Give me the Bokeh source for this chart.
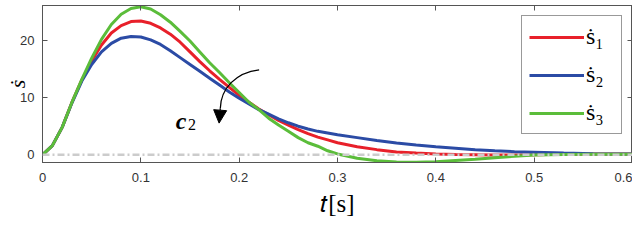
import numpy as np
from bokeh.plotting import figure
from bokeh.models import (Range1d, LinearAxis, Span, Label, Legend, LegendItem,
                          Arrow, NormalHead, FixedTicker, NumeralTickFormatter,
                          CustomLabelingPolicy)
from bokeh.core.properties import value
from bokeh.embed import file_html
from bokeh.resources import INLINE

# ---------------- data ----------------
t = [0.00, 0.01, 0.02, 0.03, 0.04, 0.05, 0.06, 0.07, 0.08, 0.09, 0.10,
     0.11, 0.12, 0.13, 0.14, 0.15, 0.16, 0.17, 0.18, 0.19, 0.20,
     0.21, 0.22, 0.23, 0.24, 0.25, 0.26, 0.27, 0.28, 0.29, 0.30,
     0.32, 0.34, 0.36, 0.38, 0.40, 0.42, 0.44, 0.46, 0.48, 0.50,
     0.53, 0.56, 0.60]
s1 = [0.0, 1.6, 4.8, 9.2, 13.1, 16.4, 19.2, 21.3, 22.6, 23.3, 23.4,
      23.0, 22.2, 21.1, 19.7, 18.0, 16.3, 14.7, 13.2, 11.8, 10.4,
      9.2, 8.0, 7.0, 6.0, 5.2, 4.4, 3.7, 3.1, 2.6, 2.1,
      1.4, 0.9, 0.5, 0.3, 0.15, 0.05, 0.0, -0.05, -0.05, 0.0,
      0.1, 0.12, 0.15]
s2 = [0.0, 1.6, 4.8, 9.1, 12.9, 15.8, 18.0, 19.5, 20.4, 20.7, 20.6,
      20.1, 19.3, 18.2, 17.0, 15.8, 14.6, 13.4, 12.2, 11.0, 9.9,
      8.9, 7.9, 7.1, 6.3, 5.6, 5.0, 4.5, 4.1, 3.8, 3.5,
      3.0, 2.5, 2.05, 1.7, 1.4, 1.15, 0.9, 0.7, 0.55, 0.45,
      0.3, 0.2, 0.15]
s3 = [0.0, 1.6, 4.8, 9.2, 13.2, 16.9, 20.2, 22.8, 24.6, 25.6, 25.9,
      25.5, 24.5, 23.2, 21.6, 19.9, 18.0, 16.1, 14.4, 12.6, 10.9,
      9.2, 7.9, 6.4, 5.2, 4.1, 3.0, 2.1, 1.5, 0.7, 0.15,
      -0.6, -1.05, -1.25, -1.3, -1.2, -1.0, -0.8, -0.5, -0.25, -0.05,
      0.05, 0.1, 0.1]
series_labels = ["\u1e61\u2081", "\u1e61\u2082", "\u1e61\u2083"]
series_colors = ["#E8202A", "#2B4BA5", "#5BBD3A"]
x_ticks = [0, 0.1, 0.2, 0.3, 0.4, 0.5, 0.6]
y_ticks = [0, 10, 20]
x_label = "\U0001D461[s]"
y_label = "\u1e61"

# annotation (curved arrow and c2 label), in data units
arrow_curve = dict(x0=0.2203, y0=14.87, cx0=0.1966, cy0=14.4,
                   cx1=0.1813, cy1=11.6, x1=0.1808, y1=8.1)
arrow_tip = (0.1796, 5.54)

AX = "#555555"
TXT = "#333333"

p = figure(width=632, height=230, output_backend="svg", toolbar_location=None,
           x_range=Range1d(0, 0.6), y_range=Range1d(-1.35, 26.12),
           min_border_left=42, min_border_right=0, min_border_top=5,
           min_border_bottom=68)
p.grid.visible = False
p.outline_line_color = AX
p.background_fill_color = "white"
p.border_fill_color = "white"

p.xaxis.ticker = FixedTicker(ticks=x_ticks)
p.xaxis.formatter = NumeralTickFormatter(format="0.[0]")
p.yaxis.ticker = FixedTicker(ticks=y_ticks)
for ax in (p.xaxis[0], p.yaxis[0]):
    ax.axis_line_color = AX
    ax.major_tick_line_color = AX
    ax.major_tick_in = 5
    ax.major_tick_out = 0
    ax.minor_tick_line_color = None
    ax.major_label_text_font = "Liberation Sans"
    ax.major_label_text_font_size = "13px"
    ax.major_label_text_color = TXT
    ax.axis_label_text_font = "Liberation Serif"
    ax.axis_label_text_color = "black"
p.xaxis.major_label_standoff = 10
p.yaxis.major_label_standoff = 8
p.xaxis.axis_label = x_label
p.xaxis.axis_label_text_font_style = "normal"
p.xaxis.axis_label_text_font_size = "25px"
p.xaxis.axis_label_standoff = 5
p.yaxis.axis_label = y_label
p.yaxis.axis_label_text_font_style = "italic"
p.yaxis.axis_label_text_font_size = "22px"
p.yaxis.axis_label_standoff = -13

hide_all = CustomLabelingPolicy(code="return new Set()")
top = LinearAxis(ticker=FixedTicker(ticks=x_ticks), major_label_text_font_size="0px",
                 major_label_policy=hide_all,
                 major_label_standoff=0, major_tick_in=5, major_tick_out=0,
                 minor_tick_line_color=None, axis_line_color=AX, major_tick_line_color=AX)
right = LinearAxis(ticker=FixedTicker(ticks=y_ticks), major_label_text_font_size="0px",
                   major_label_policy=hide_all,
                   major_label_standoff=0, major_tick_in=5, major_tick_out=0,
                   minor_tick_line_color=None, axis_line_color=AX, major_tick_line_color=AX)
p.add_layout(top, "above")
p.add_layout(right, "right")

p.add_layout(Span(location=0, dimension="width", line_color="#cccccc",
                  line_width=2.5, line_dash="7 3 2 3"))

renderers = []
for ys, col in zip([s1, s2, s3], series_colors):
    r = p.line(t, ys, line_color=col, line_width=3)
    renderers.append(r)

legend = Legend(items=[LegendItem(label=lab, renderers=[r])
                       for lab, r in zip(series_labels, renderers)],
                location=(479, 28), padding=7, spacing=11,
                glyph_width=55, glyph_height=20, label_height=20,
                label_width=28, label_standoff=2, label_text_font="Liberation Serif",
                label_text_font_size="24px", label_text_color="black",
                border_line_color="#333333", border_line_width=1,
                background_fill_color="white", background_fill_alpha=1)
p.add_layout(legend)

# annotation c2 with curved arrow
p.add_layout(Label(x=0.1356, y=5.83, text="c", text_align="left",
                   text_baseline="alphabetic", text_font="Liberation Serif",
                   text_font_style="bold italic", text_font_size="24px", text_color="black"))
p.add_layout(Label(x=0.1480, y=5.3, text="2", text_align="left",
                   text_baseline="alphabetic", text_font="Liberation Serif",
                   text_font_size="16px", text_color="black"))
p.bezier(x0=[arrow_curve["x0"]], y0=[arrow_curve["y0"]], x1=[arrow_curve["x1"]],
         y1=[arrow_curve["y1"]], cx0=[arrow_curve["cx0"]], cy0=[arrow_curve["cy0"]],
         cx1=[arrow_curve["cx1"]], cy1=[arrow_curve["cy1"]],
         line_color="black", line_width=1.3)
p.add_layout(Arrow(end=NormalHead(size=13, fill_color="black", line_color="black"),
                   x_start=arrow_curve["x1"], y_start=arrow_curve["y1"],
                   x_end=arrow_tip[0], y_end=arrow_tip[1],
                   line_color="black", line_width=1.3))

open("out.html", "w").write(file_html(p, INLINE))
